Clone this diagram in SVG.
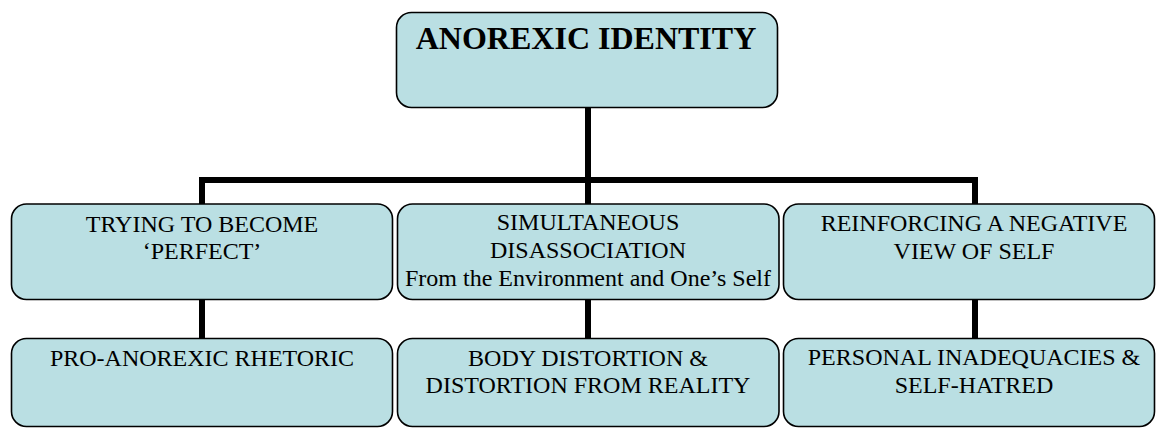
<svg xmlns="http://www.w3.org/2000/svg" width="1156" height="429" viewBox="0 0 1156 429">
<style>
.box{fill:#BADFE3;stroke:#000;stroke-width:1.6}
.t{font-family:"Liberation Serif","Times New Roman",serif;font-size:24px;fill:#000;text-anchor:middle}
.title{font-family:"Liberation Serif","Times New Roman",serif;font-size:32px;font-weight:bold;fill:#000;text-anchor:middle}
.c{stroke:#000;stroke-width:6;fill:none;stroke-linecap:butt}
</style>
<rect width="1156" height="429" fill="#fff"/>
<g id="connectors">
<line class="c" x1="588" y1="108" x2="588" y2="205"/>
<polyline class="c" points="202,204 202,180 975,180 975,204"/>
<line class="c" x1="202" y1="299" x2="202" y2="338"/>
<line class="c" x1="588" y1="299" x2="588" y2="338"/>
<line class="c" x1="975" y1="299" x2="975" y2="338"/>
</g>
<g id="n-identity">
<rect class="box" x="396.5" y="12.5" width="381" height="95" rx="15"/>
<text class="title" x="586" y="49">ANOREXIC IDENTITY</text>
</g>
<g id="n-perfect">
<rect class="box" x="11.5" y="204" width="381" height="95.5" rx="15"/>
<text class="t" x="202" y="231.5">TRYING TO BECOME</text>
<text class="t" x="202" y="259">‘PERFECT’</text>
</g>
<g id="n-disassociation">
<rect class="box" x="397.5" y="204" width="381.5" height="95.5" rx="15"/>
<text class="t" x="588" y="230">SIMULTANEOUS</text>
<text class="t" x="588" y="258">DISASSOCIATION</text>
<text class="t" x="588" y="286">From the Environment and One’s Self</text>
</g>
<g id="n-negative">
<rect class="box" x="783.5" y="204" width="371" height="95.5" rx="15"/>
<text class="t" x="974" y="231">REINFORCING A NEGATIVE</text>
<text class="t" x="974" y="259">VIEW OF SELF</text>
</g>
<g id="n-rhetoric">
<rect class="box" x="11.5" y="338.5" width="381" height="88" rx="15"/>
<text class="t" x="202" y="366">PRO-ANOREXIC RHETORIC</text>
</g>
<g id="n-distortion">
<rect class="box" x="397.5" y="338.5" width="381.5" height="88" rx="15"/>
<text class="t" x="588" y="365.5">BODY DISTORTION &amp;</text>
<text class="t" x="588" y="393">DISTORTION FROM REALITY</text>
</g>
<g id="n-inadequacies">
<rect class="box" x="783.5" y="338.5" width="371" height="88" rx="15"/>
<text class="t" x="974" y="365">PERSONAL INADEQUACIES &amp;</text>
<text class="t" x="974" y="392.5">SELF-HATRED</text>
</g>
</svg>
